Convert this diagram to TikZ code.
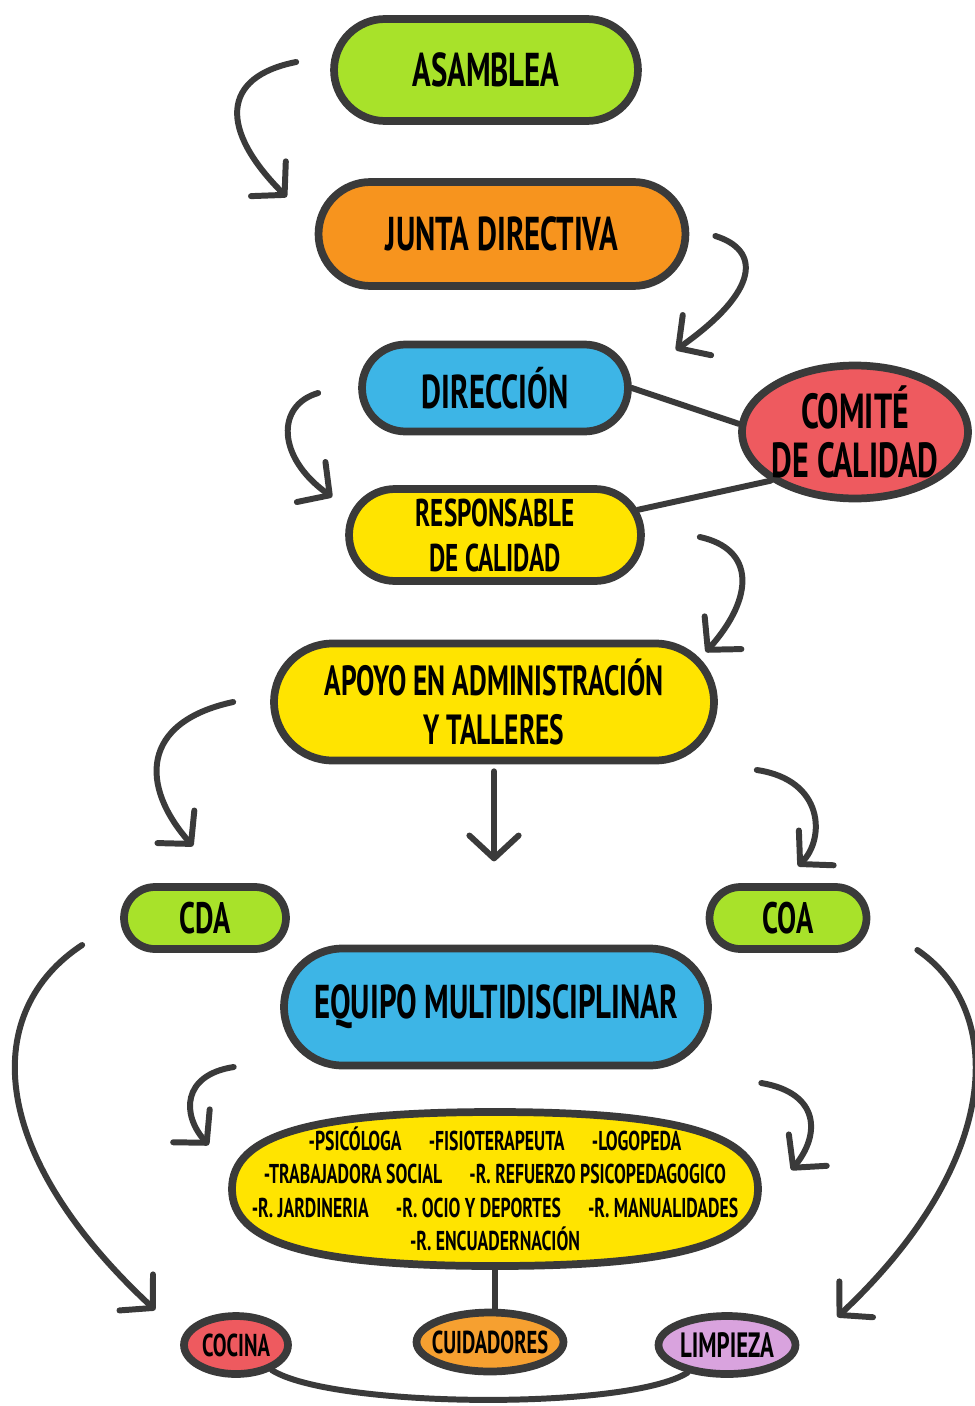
\documentclass[tikz,border=0pt]{standalone}
\usepackage{fontspec}
\setmainfont{PT Sans}[FakeStretch=0.65]
\usepackage{tikz}
\usetikzlibrary{arrows.meta,calc,shapes}
\definecolor{ink}{HTML}{3A3A3A}
\definecolor{lime}{HTML}{A8E22A}
\definecolor{tangerine}{HTML}{F7941E}
\definecolor{sky}{HTML}{3DB5E6}
\definecolor{coral}{HTML}{EE5A5F}
\definecolor{lemon}{HTML}{FFE400}
\definecolor{lilac}{HTML}{D9A3DE}
\definecolor{amber}{HTML}{F6A030}
\tikzset{
    pill/.style args={#1}{fill=#1, draw=ink, line width=4.4pt, rounded rectangle, inner sep=0pt, align=center, font=\bfseries\fontsize{27}{30}\selectfont},
    oval/.style args={#1}{fill=#1, draw=ink, line width=4.4pt, ellipse, inner sep=-2cm, align=center, font=\bfseries\fontsize{20}{24}\selectfont},
    arr/.style={draw=ink, line width=3.4pt, line cap=round, -{Straight Barb[length=13pt,width=28pt,line cap=round,line join=round]}},
    link/.style={draw=ink, line width=3.4pt, line cap=round}
}

\begin{document}
\begin{tikzpicture}[x=0.02cm, y=-0.02cm]
\useasboundingbox (0,0) rectangle (974,1406);
\fill[white] (0,0) rectangle (974,1406);
% boxes
\node[pill=lime, minimum width=6.08cm, minimum height=2.04cm] (asamblea) at (486,70) {ASAMBLEA};
\node[pill=tangerine, minimum width=7.34cm, minimum height=2.08cm] (junta) at (502,234) {JUNTA DIRECTIVA};
\node[pill=sky, minimum width=5.32cm, minimum height=1.74cm] (direccion) at (495,388) {DIRECCIÓN};
\node[oval=coral, minimum width=4.52cm, minimum height=2.66cm, font=\bfseries\fontsize{28}{28}\selectfont] (comite) at (855,432) {COMITÉ\\DE CALIDAD};
\node[pill=lemon, minimum width=5.84cm, minimum height=1.84cm, font=\bfseries\fontsize{22}{25.6}\selectfont] (responsable) at (495,535) {RESPONSABLE\\DE CALIDAD};
\node[pill=lemon, minimum width=8.8cm, minimum height=2.34cm, font=\bfseries\fontsize{24}{28}\selectfont] (apoyo) at (494,702) {APOYO EN ADMINISTRACIÓN\\Y TALLERES};
\node[pill=lime, minimum width=3.24cm, minimum height=1.24cm, font=\bfseries\fontsize{25}{28}\selectfont] (cda) at (205,918) {CDA};
\node[pill=lime, minimum width=3.14cm, minimum height=1.24cm, font=\bfseries\fontsize{25}{28}\selectfont] (coa) at (788,918) {COA};
\node[pill=sky, minimum width=8.48cm, minimum height=2.34cm] (equipo) at (496,1007) {EQUIPO MULTIDISCIPLINAR};
% fuller oval behind the staff list
\draw[ink, line width=4.4pt, fill=lemon] (758,1189) .. controls (758,1135) and (679,1112) .. (495,1112)
    .. controls (311,1112) and (232,1135) .. (232,1189) .. controls (232,1243) and (311,1266) .. (495,1266)
    .. controls (679,1266) and (758,1243) .. (758,1189) -- cycle;
\node[ellipse, inner sep=-2cm, align=center, minimum width=10.52cm, minimum height=3.08cm, font=\bfseries\fontsize{15.5}{19}\selectfont] (staff) at (495,1189)
    {-PSICÓLOGA\quad -FISIOTERAPEUTA\quad -LOGOPEDA\\
     -TRABAJADORA SOCIAL\quad -R. REFUERZO PSICOPEDAGOGICO\\
     -R. JARDINERIA\quad -R. OCIO Y DEPORTES\quad -R. MANUALIDADES\\
     -R. ENCUADERNACIÓN};
\node[oval=coral, minimum width=2.08cm, minimum height=1.16cm, font=\bfseries\fontsize{18}{24}\selectfont] (cocina) at (236,1345) {COCINA};
\node[oval=amber, minimum width=2.94cm, minimum height=1.18cm, font=\bfseries\fontsize{18}{24}\selectfont] (cuidadores) at (490,1342) {CUIDADORES};
\node[oval=lilac, minimum width=2.74cm, minimum height=1.16cm] (limpieza) at (727,1345) {LIMPIEZA};

% free ends of the curved arrows
\coordinate (arr1-s) at ($(asamblea.west)+(-34,-8)$);
\coordinate (arr1-e) at ($(junta.west)+(-28,-37)$);
\coordinate (arr2-s) at ($(junta.east)+(26,2)$);
\coordinate (arr2-e) at ($(direccion.east)+(44,-38)$);
\coordinate (arr3-s) at ($(direccion.west)+(-40,5)$);
\coordinate (arr3-e) at ($(responsable.west)+(-13,-38)$);
\coordinate (arr4-s) at ($(responsable.east)+(55,2)$);
\coordinate (arr4-e) at ($(apoyo.east)+(-12,-50)$);
\coordinate (arr5-s) at ($(apoyo.west)+(-37,0)$);
\coordinate (arr5-e) at ($(cda.north)+(-12,-37)$);
\coordinate (arr6-s) at ($(apoyo.east)+(39,68)$);
\coordinate (arr6-e) at ($(coa.north)+(10,-17)$);
\coordinate (arr7-s) at ($(cda.west)+(-38,27)$);
\coordinate (arr7-e) at ($(cocina.west)+(-25,-35)$);
\coordinate (arr8-s) at ($(coa.east)+(47,32)$);
\coordinate (arr8-e) at ($(limpieza.east)+(38,-28)$);
\coordinate (arr9-s) at ($(staff.west)+(2,-122)$);
\coordinate (arr9-e) at ($(staff.west)+(-23,-44)$);
\coordinate (arr10-s) at ($(staff.east)+(3,-106)$);
\coordinate (arr10-e) at ($(staff.east)+(33,-19)$);
\coordinate (down-e) at ($(apoyo.south)+(0,97)$);

\foreach \i/\ca/\cb in {1/{-76,15}/{-67,-67}, 2/{45,14}/{85,-60}, 3/{-42,12}/{-56,-40},
    4/{55,12}/{49,-55}, 5/{-93,20}/{-53,-60}, 6/{68,10}/{27,-27},
    7/{-99,65}/{-172,-160}, 8/{88,60}/{167,-157}, 9/{-52,8}/{-27,-30}, 10/{59,10}/{29,-35}} {
    \draw[arr] (arr\i-s) .. controls +(\ca) and +(\cb) .. (arr\i-e);
}
\draw[arr] ($(apoyo.south)+(0,7)$) -- (down-e);

\draw[link] (direccion.east) -- (comite.176);
\draw[link] (responsable.10) -- (comite.210);
\draw[link] ($(staff.south)+(0,3)$) -- (staff.south |- cuidadores.north);
\draw[link] (cocina.-35) .. controls +(60,38) and +(-60,38) .. (limpieza.-145);
\end{tikzpicture}
\end{document}
